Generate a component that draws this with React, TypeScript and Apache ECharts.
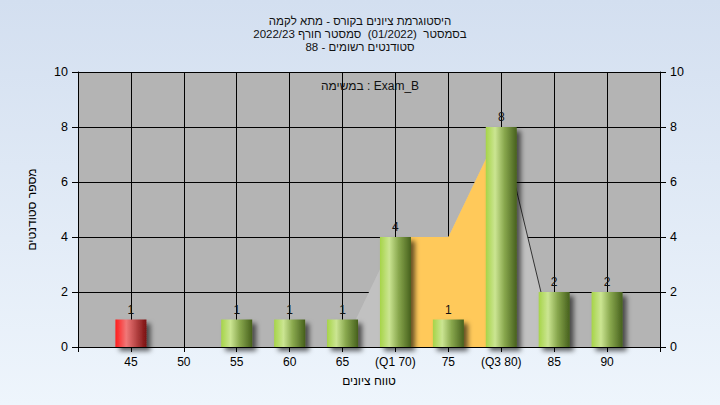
import React, { useEffect, useRef } from "react";
import * as echarts from "echarts";

const titleLines = [
  "היסטוגרמת ציונים בקורס - מתא לקמה",
  "בסמסטר  (01/2022)  סמסטר חורף 2022/23",
  "סטודנטים רשומים - 88",
];
const taskText = "במשימה : Exam_B";
const xAxisName = "טווח ציונים";
const yAxisName = "מספר סטודנטים";

const grades = [45, 50, 55, 60, 65, 70, 75, 80, 85, 90];
const gradeLabels = ["45", "50", "55", "60", "65", "(Q1 70)", "75", "(Q3 80)", "85", "90"];
const counts = [1, 0, 1, 1, 1, 4, 1, 8, 2, 2];
const failingGrades = [45];

const polygonX = [65, 70, 75, 80, 85];
const polygonY = [0, 4, 4, 8, 0];
const quartileX = [70, 75, 80];
const quartileY = [4, 4, 8];
const edgeX = [80, 85];
const edgeY = [8, 0];

const FONT = "Liberation Sans, Arial, sans-serif";

export default function App() {
  const ref = useRef<HTMLDivElement>(null);
  useEffect(() => {
    if (!ref.current) return;
    const chart = echarts.init(ref.current, null, { renderer: "svg" });
    const green = new echarts.graphic.LinearGradient(0, 0, 1, 0, [
      { offset: 0, color: "#a6d448" },
      { offset: 0.3, color: "#cbe592" },
      { offset: 0.6, color: "#89a84e" },
      { offset: 1, color: "#46601c" },
    ]);
    const red = new echarts.graphic.LinearGradient(0, 0, 1, 0, [
      { offset: 0, color: "#ff1c1c" },
      { offset: 0.35, color: "#f07878" },
      { offset: 1, color: "#7a1010" },
    ]);
    const labelMap: Record<number, string> = {};
    grades.forEach((g, i) => (labelMap[g] = gradeLabels[i]));
    const barData = grades
      .map((g, i) => ({
        value: [g, counts[i]],
        itemStyle: { color: failingGrades.includes(g) ? red : green },
      }))
      .filter((d) => d.value[1] > 0);
    const yAxisCommon = {
      type: "value",
      min: 0,
      max: 10,
      interval: 2,
      axisLine: { show: true, lineStyle: { color: "#000", width: 1 } },
      axisTick: { show: true, length: 6, lineStyle: { color: "#000" } },
      axisLabel: { color: "#000", fontSize: 12.5, fontFamily: FONT, margin: 10 },
    };
    chart.setOption({
      animation: false,
      backgroundColor: "transparent",
      textStyle: { fontFamily: FONT },
      title: {
        text: titleLines.join("\n"),
        left: "center",
        top: 9,
        textStyle: { fontSize: 11.5, fontWeight: "normal", color: "#111", lineHeight: 13, fontFamily: FONT },
      },
      grid: {
        left: 78,
        right: 60,
        top: 72,
        bottom: 58,
        show: true,
        backgroundColor: "#b4b4b4",
        borderWidth: 0,
      },
      xAxis: {
        type: "value",
        min: 40,
        max: 95,
        interval: 5,
        name: xAxisName,
        nameLocation: "middle",
        nameGap: 28,
        nameTextStyle: { color: "#000", fontSize: 12, fontFamily: FONT },
        axisLine: { show: true, onZero: false, lineStyle: { color: "#000", width: 1 } },
        axisTick: { show: true, length: 5, lineStyle: { color: "#000" } },
        axisLabel: {
          color: "#000",
          fontSize: 12,
          fontFamily: FONT,
          margin: 9,
          formatter: (v: number) => labelMap[v] ?? "",
        },
        splitLine: { show: true, lineStyle: { color: "#000", width: 1 } },
      },
      yAxis: [
        {
          ...yAxisCommon,
          position: "left",
          name: yAxisName,
          nameLocation: "middle",
          nameGap: 40,
          nameRotate: 90,
          nameTextStyle: { color: "#000", fontSize: 12, fontFamily: FONT },
          splitLine: { show: true, lineStyle: { color: "#000", width: 1 } },
        },
        {
          ...yAxisCommon,
          position: "right",
          splitLine: { show: false },
        },
      ],
      graphic: [
        {
          type: "text",
          x: 370,
          y: 86,
          style: {
            text: taskText,
            fill: "#111",
            fontSize: 12,
            fontFamily: FONT,
            align: "center",
            verticalAlign: "middle",
          },
          z: 100,
        },
      ],
      series: [
        {
          type: "line",
          data: polygonX.map((x, i) => [x, polygonY[i]]),
          showSymbol: false,
          lineStyle: { width: 0 },
          areaStyle: { color: "#c1c1c1", opacity: 1 },
          z: 2,
          silent: true,
        },
        {
          type: "line",
          data: quartileX.map((x, i) => [x, quartileY[i]]),
          showSymbol: false,
          lineStyle: { width: 0 },
          areaStyle: { color: "#ffc95a", opacity: 1 },
          z: 2,
          silent: true,
        },
        {
          type: "line",
          data: edgeX.map((x, i) => [x, edgeY[i]]),
          showSymbol: false,
          lineStyle: { width: 1, color: "#333" },
          z: 2,
          silent: true,
        },
        {
          type: "bar",
          data: barData,
          barWidth: 31,
          z: 3,
          itemStyle: {
            shadowColor: "rgba(0,0,0,0.6)",
            shadowBlur: 5,
            shadowOffsetX: 4,
            shadowOffsetY: 4,
          },
          label: {
            show: true,
            position: "top",
            distance: 4,
            color: "#111",
            fontSize: 12,
            fontFamily: FONT,
            formatter: (p: any) => String(p.value[1]),
          },
        },
      ],
    });
    return () => chart.dispose();
  }, []);
  return (
    <div
      style={{
        position: "fixed",
        left: 0,
        top: 0,
        width: 720,
        height: 405,
        background: "linear-gradient(180deg, #d3dff0 0%, #eef5fc 100%)",
      }}
    >
      <div ref={ref} style={{ width: 720, height: 405 }} />
    </div>
  );
}
